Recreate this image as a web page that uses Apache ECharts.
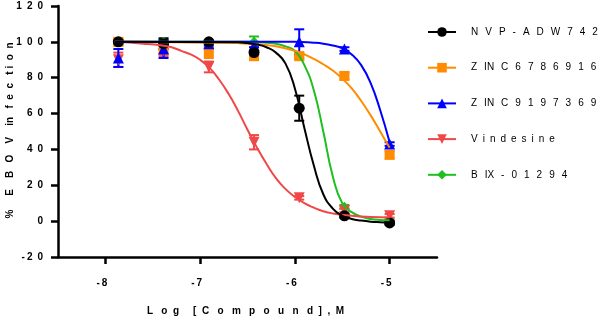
<!DOCTYPE html>
<html>
<head>
<meta charset="utf-8">
<script src="https://cdn.jsdelivr.net/npm/echarts@6/dist/echarts.min.js"></script>
<style>
html, body { margin: 0; padding: 0; background: #fff; }
#doseChart { width: 602px; height: 323px; }
</style>
</head>
<body>
<div id="doseChart"></div>
<script>
// log concentrations of the measured points (3-fold dilutions)
var logConc = [-7.863, -7.386, -6.908, -6.431, -5.954, -5.477, -5.0];

// measured points and error (SD)
var nvpPts = [100, 99, 100, 94, 63, 3, -1];
var nvpErr = [1, 3, 0.5, 1, 7, 1, 1];
var zincAPts = [100, 96, 94, 92, 92, 81, 37];
var zincAErr = [2, 3, 3, 2, 2, 2, 2];
var zincBPts = [91, 96, 99, 98, 100, 96, 43];
var zincBErr = [5, 5, 1, 1, 7, 1, 1];
var vinPts = [90, 95, 86, 44, 13, 6, 3];
var vinErr = [4, 3, 3, 4, 1, 1, 1];
var bixPts = [100, 100, 100, 100, 92, 8, 0];
var bixErr = [1, 1, 1, 3, 1, 1, 1];

// fitted curves
var nvpCurveX = [-7.9, -6.6, -6.5, -6.4, -6.3, -6.2, -6.1, -6.0, -5.9, -5.8, -5.7, -5.6, -5.5, -5.4, -5.3, -5.2, -5.1, -5.0];
var nvpCurveY = [100, 99.8, 99.3, 98.5, 97, 94, 88, 74, 52, 31, 15, 7, 3, 1.2, 0.3, -0.3, -0.6, -0.8];
var zincACurveX = [-7.9, -7.0, -6.6, -6.4, -6.2, -6.0, -5.9, -5.8, -5.7, -5.6, -5.5, -5.4, -5.3, -5.2, -5.1, -5.0];
var zincACurveY = [100, 99.7, 99.3, 98.7, 97.5, 95, 93, 90.5, 87.5, 84, 79.5, 74, 67, 59, 50, 41];
var zincBCurveX = [-7.9, -6.5, -6.0, -5.8, -5.7, -5.6, -5.5, -5.4, -5.3, -5.2, -5.1, -5.0];
var zincBCurveY = [100, 100, 100, 99.5, 99, 98, 96.5, 93, 87, 77, 62, 44];
var vinCurveX = [-7.9, -7.6, -7.4, -7.3, -7.2, -7.1, -7.0, -6.9, -6.8, -6.7, -6.6, -6.5, -6.4, -6.3, -6.2, -6.1, -6.0, -5.9, -5.8, -5.7, -5.6, -5.4, -5.2, -5.0];
var vinCurveY = [100, 99, 98, 97, 95, 93, 90, 85.5, 79, 71, 61.5, 51, 41, 32, 24, 18, 13.5, 10, 7.5, 5.5, 4.3, 3, 2.3, 2];
var bixCurveX = [-7.9, -6.5, -6.3, -6.2, -6.1, -6.0, -5.9, -5.8, -5.7, -5.6, -5.5, -5.4, -5.3, -5.2, -5.1, -5.0];
var bixCurveY = [100, 100, 99.5, 99, 97.5, 95, 87, 73, 50, 25, 10, 5, 2.5, 1.2, 0.7, 0.5];

var xTicks = [-8, -7, -6, -5];
var names = ['NVP-ADW742', 'ZINC67869167', 'ZINC91973695', 'Vindesine', 'BIX-01294'];

var G = '\u2002\u2009';
var E = '\u2002';
var legendText = {
    'NVP-ADW742': ['N', 'V', 'P', '-', 'A', 'D', 'W', '7', '4', '2'].join(G),
    'ZINC67869167': ['Z', 'IN', 'C', '6', '7', '8', '6', '9', '1', '6', '7'].join(G),
    'ZINC91973695': ['Z', 'IN', 'C', '9', '1', '9', '7', '3', '6', '9', '5'].join(G),
    'Vindesine': ['V', 'i', 'n', 'd', 'e', 's', 'i', 'n', 'e'].join(E),
    'BIX-01294': ['B', 'IX', '-', '0', '1', '2', '9', '4'].join(G)
};

function sp(n) { return new Array(n + 1).join(' '); }

var xTitle = 'L' + sp(3) + 'o' + sp(2) + 'g' + sp(5) + '[' + sp(2) + 'C' + sp(3) + 'o' + sp(3) + 'm' + sp(3) + 'p' +
    sp(3) + 'o' + sp(3) + 'u' + sp(3) + 'n' + sp(3) + 'd' + sp(2) + ']' + sp(2) + ',' + sp(2) + 'M';
var yTitle = '%' + sp(5) + 'E' + sp(4) + 'B' + sp(3) + 'O' + sp(4) + 'V' + sp(4) + 'in' + sp(3) + 'f' + sp(2) + 'e' +
    sp(2) + 'c' + sp(3) + 't' + sp(1) + 'i' + sp(2) + 'o' + sp(2) + 'n';

function spaced(v) {
    var s = String(Math.abs(v)).split('').join('\u2002');
    return v < 0 ? '-\u2009' + s : s;
}

function zip(xs, ys) {
    return xs.map(function (x, i) { return [x, ys[i]]; });
}

function errBars(color) {
    return function (params, api) {
        var x = api.value(0), y = api.value(1), e = api.value(2);
        var top = api.coord([x, y + e]);
        var bot = api.coord([x, y - e]);
        var st = { stroke: color, lineWidth: 2 };
        return {
            type: 'group',
            children: [
                { type: 'line', shape: { x1: top[0], y1: top[1], x2: bot[0], y2: bot[1] }, style: st },
                { type: 'line', shape: { x1: top[0] - 5, y1: top[1], x2: top[0] + 5, y2: top[1] }, style: st },
                { type: 'line', shape: { x1: bot[0] - 5, y1: bot[1], x2: bot[0] + 5, y2: bot[1] }, style: st }
            ]
        };
    };
}

var invTri = 'path://M0,0 L10,0 L5,9 Z';

// draw order: green, orange, red, blue, black (black on top)
var sets = [
    { name: 'BIX-01294', color: '#1fbf1f', symbol: 'diamond', size: 10, cx: bixCurveX, cy: bixCurveY, pts: bixPts, err: bixErr },
    { name: 'ZINC67869167', color: '#ff8c00', symbol: 'rect', size: 10, cx: zincACurveX, cy: zincACurveY, pts: zincAPts, err: zincAErr },
    { name: 'Vindesine', color: '#f04848', symbol: invTri, size: 11, cx: vinCurveX, cy: vinCurveY, pts: vinPts, err: vinErr },
    { name: 'ZINC91973695', color: '#0000ff', symbol: 'triangle', size: 11, cx: zincBCurveX, cy: zincBCurveY, pts: zincBPts, err: zincBErr },
    { name: 'NVP-ADW742', color: '#000000', symbol: 'circle', size: 11, cx: nvpCurveX, cy: nvpCurveY, pts: nvpPts, err: nvpErr }
];

var series = [];
sets.forEach(function (s) {
    series.push({
        name: s.name,
        type: 'line',
        smooth: 0.5,
        symbol: s.symbol,
        symbolSize: s.size,
        showSymbol: false,
        color: s.color,
        lineStyle: { color: s.color, width: 2 },
        data: zip(s.cx, s.cy),
        silent: true
    });
    series.push({
        name: s.name + ' err',
        type: 'custom',
        renderItem: errBars(s.color),
        data: logConc.map(function (x, i) { return [x, s.pts[i], s.err[i]]; }),
        silent: true
    });
    series.push({
        name: s.name + ' pts',
        type: 'scatter',
        symbol: s.symbol,
        symbolSize: s.size,
        itemStyle: { color: s.color, opacity: 1 },
        data: zip(logConc, s.pts),
        silent: true
    });
});

var doseChart = echarts.init(document.getElementById('doseChart')),
doseOption = {
    animation: false,
    textStyle: { fontFamily: 'Liberation Sans, Arial, sans-serif' },
    grid: { left: 58, right: 165, top: 6, bottom: 66, outerBoundsMode: 'none' },
    legend: {
        data: names,
        orient: 'vertical',
        left: 422,
        top: 22,
        itemWidth: 28,
        itemHeight: 12,
        itemGap: 25.7,
        formatter: function (n) { return legendText[n]; },
        textStyle: { fontSize: 10, color: '#000', padding: [0, 0, 0, 10] }
    },
    xAxis: {
        type: 'value',
        min: -8.5,
        max: -4.5,
        name: xTitle,
        nameLocation: 'middle',
        nameGap: 49,
        nameTextStyle: { fontSize: 10, fontWeight: 'bold', color: '#000', padding: [0, 4, 0, 0] },
        splitLine: { show: false },
        axisLine: { onZero: false, lineStyle: { color: '#000', width: 2.5 } },
        axisTick: { customValues: xTicks, length: 7, lineStyle: { color: '#000', width: 2.5 } },
        axisLabel: { customValues: xTicks, margin: 21, fontSize: 10, fontWeight: 'bold', color: '#000', formatter: spaced, padding: [0, 7, 0, 0] }
    },
    yAxis: {
        type: 'value',
        min: -20,
        max: 120,
        interval: 20,
        name: yTitle,
        nameLocation: 'middle',
        nameGap: 43,
        nameMoveOverlap: false,
        nameTextStyle: { fontSize: 10, fontWeight: 'bold', color: '#000', padding: [0, 0, 0, 2] },
        splitLine: { show: false },
        axisLine: { show: true, onZero: false, lineStyle: { color: '#000', width: 2.5 } },
        axisTick: { show: true, length: 7, lineStyle: { color: '#000', width: 2.5 } },
        axisLabel: { margin: 15, fontSize: 10, fontWeight: 'bold', color: '#000', formatter: spaced }
    },
    series: series
};
doseChart.setOption(doseOption);
</script>
</body>
</html>
